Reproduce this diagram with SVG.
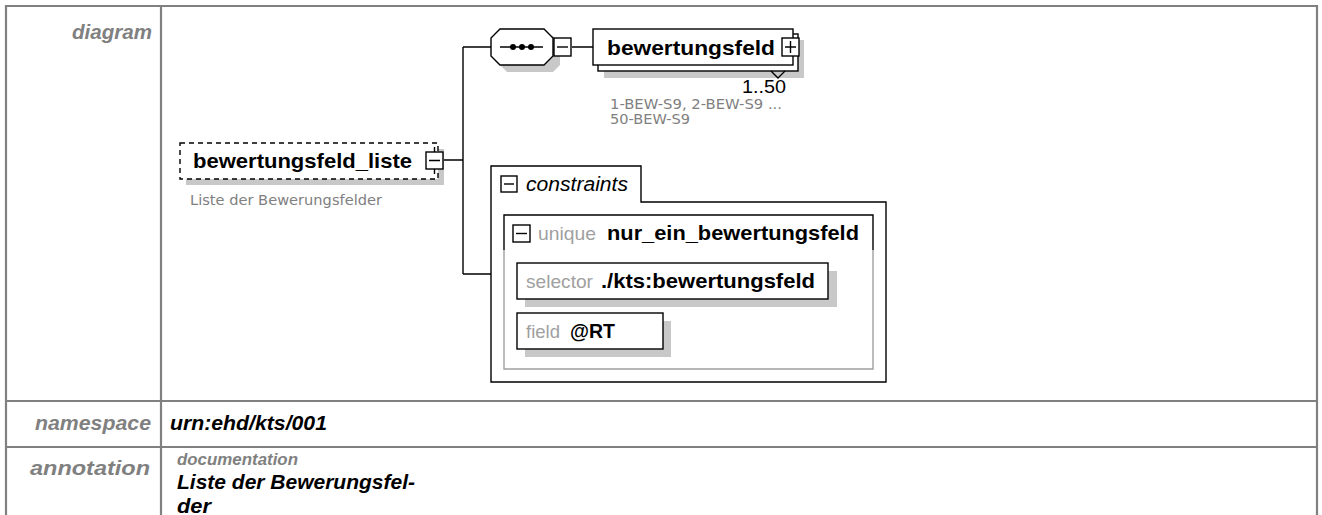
<svg xmlns="http://www.w3.org/2000/svg" width="1322" height="515" viewBox="0 0 1322 515">
<style>
.tb{fill:none;stroke:#808080;stroke-width:2.2}
.lbl{font-family:"Liberation Sans",Arial,sans-serif;font-size:21px;font-weight:bold;font-style:italic;fill:#808080}
.val{font-family:"Liberation Sans",Arial,sans-serif;font-size:21px;font-weight:bold;font-style:italic;fill:#000}
.nm{font-family:"Liberation Sans",Arial,sans-serif;font-size:21px;font-weight:bold;fill:#000}
.gr{font-family:"Liberation Sans",Arial,sans-serif;font-size:19px;fill:#a0a0a0}
.sm{font-family:"DejaVu Sans",Verdana,sans-serif;font-size:14px;fill:#808080}
.box{fill:#fff;stroke:#000;stroke-width:1.4}
.ic{fill:#fff;stroke:#000;stroke-width:1.4}
.sh{fill:#c8c8c8}
.ln{fill:none;stroke:#000;stroke-width:1.4}
.gl{fill:none;stroke:#a0a0a0;stroke-width:1.4}
</style>
<rect x="0" y="0" width="1322" height="515" fill="#fff"/>
<g id="table">
<path class="tb" d="M6 520 V6 H1317 V520 M161 6 V520 M6 401 H1317 M6 447 H1317"/>
<text class="lbl" x="152" y="39" text-anchor="end" textLength="80" lengthAdjust="spacingAndGlyphs">diagram</text>
<text class="lbl" x="151" y="430" text-anchor="end" textLength="116" lengthAdjust="spacingAndGlyphs">namespace</text>
<text class="val" x="170" y="430" textLength="157" lengthAdjust="spacingAndGlyphs">urn:ehd/kts/001</text>
<text class="lbl" x="150" y="475" text-anchor="end" textLength="120" lengthAdjust="spacingAndGlyphs">annotation</text>
<text class="lbl" x="177" y="465" style="font-size:17px" textLength="121" lengthAdjust="spacingAndGlyphs">documentation</text>
<text class="val" x="177" y="489" textLength="238" lengthAdjust="spacingAndGlyphs">Liste der Bewerungsfel-</text>
<text class="val" x="177" y="513" textLength="34" lengthAdjust="spacingAndGlyphs">der</text>
</g>
<g id="connectors">
<path class="ln" d="M443 160 H463 M463 47 V274 M463 47 H491 M463 274 H491 M572 47 H593"/>
</g>
<g id="bewertungsfeld_liste">
<rect class="sh" x="186" y="149" width="258" height="36"/>
<rect x="180" y="143" width="258" height="36" fill="#fff" stroke="#000" stroke-width="1.4" stroke-dasharray="5,4"/>
<text class="nm" x="193" y="168" textLength="219" lengthAdjust="spacingAndGlyphs">bewertungsfeld_liste</text>
<rect class="ic" x="426" y="152" width="17" height="17"/>
<path class="ln" d="M429 160.5 H440 M434.5 147 V152 M434.5 169 V174"/>
<text class="sm" x="190" y="205" textLength="192" lengthAdjust="spacingAndGlyphs">Liste der Bewerungsfelder</text>
</g>
<g id="sequence">
<path class="sh" d="M507 36 H553 L560 43 V65 L553 72 H507 L500 65 V43 Z"/>
<path class="box" d="M500 29 H544 L553 38 V56 L544 65 H500 L491 56 V38 Z"/>
<path class="ln" d="M500 47 H543"/>
<circle cx="513" cy="47" r="3"/><circle cx="522" cy="47" r="3"/><circle cx="531" cy="47" r="3"/>
<rect class="ic" x="554" y="38" width="17" height="18"/>
<path class="ln" d="M557 47 H568"/>
</g>
<g id="bewertungsfeld">
<rect class="sh" x="604" y="40" width="200" height="38"/>
<rect class="box" x="598" y="34" width="200" height="37"/>
<rect class="box" x="593" y="29" width="200" height="36"/>
<text class="nm" x="607" y="55" textLength="168" lengthAdjust="spacingAndGlyphs">bewertungsfeld</text>
<rect class="ic" x="782" y="38" width="17" height="18"/>
<path class="ln" d="M785 47 H796 M790.5 41 V53"/>
<path class="ln" d="M771 71 L778 78 L785 71"/>
<text font-family="Liberation Sans,Arial,sans-serif" font-size="19px" x="786" y="93" text-anchor="end" textLength="44" lengthAdjust="spacingAndGlyphs">1..50</text>
<text class="sm" x="610" y="109" textLength="172" lengthAdjust="spacingAndGlyphs">1-BEW-S9, 2-BEW-S9 ...</text>
<text class="sm" x="610" y="124" textLength="80" lengthAdjust="spacingAndGlyphs">50-BEW-S9</text>
</g>
<g id="constraints">
<path class="box" d="M491 166 H641 V202 H886 V382 H491 Z"/>
<rect class="ic" x="501" y="176" width="16" height="16"/>
<path class="ln" d="M504 184 H514"/>
<text font-family="Liberation Sans,Arial,sans-serif" font-size="20px" font-style="italic" x="526" y="191" textLength="102" lengthAdjust="spacingAndGlyphs">constraints</text>
</g>
<g id="unique">
<path class="gl" d="M504 250 V369 H873 V250"/>
<path class="ln" d="M504 250 V215 H873 V250"/>
<rect class="ic" x="513" y="225" width="17" height="17"/>
<path class="ln" d="M516 233.5 H527"/>
<text class="gr" x="538" y="240" textLength="58" lengthAdjust="spacingAndGlyphs">unique</text>
<text class="nm" x="607" y="240" textLength="252" lengthAdjust="spacingAndGlyphs">nur_ein_bewertungsfeld</text>
</g>
<g id="selector">
<rect class="sh" x="525" y="271" width="312" height="36"/>
<rect class="box" x="517" y="263" width="311" height="36"/>
<text class="gr" x="526" y="288" textLength="67" lengthAdjust="spacingAndGlyphs">selector</text>
<text class="nm" x="601" y="288" textLength="214" lengthAdjust="spacingAndGlyphs">./kts:bewertungsfeld</text>
</g>
<g id="field">
<rect class="sh" x="525" y="321" width="146" height="36"/>
<rect class="box" x="517" y="313" width="146" height="36"/>
<text class="gr" x="526" y="338" textLength="34" lengthAdjust="spacingAndGlyphs">field</text>
<text class="nm" x="570" y="338" textLength="45" lengthAdjust="spacingAndGlyphs">@RT</text>
</g>
</svg>
